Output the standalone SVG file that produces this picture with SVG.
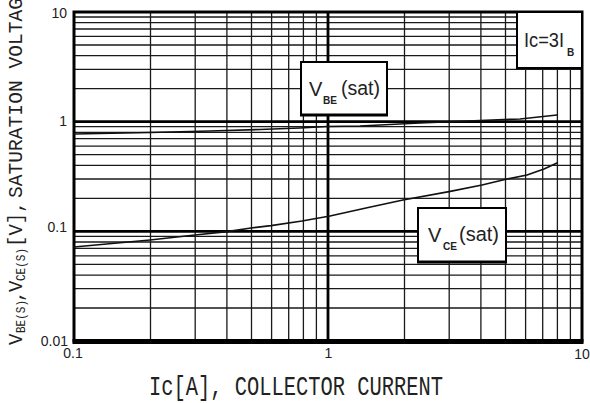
<svg xmlns="http://www.w3.org/2000/svg" width="590" height="403" viewBox="0 0 590 403">
<style>
.minor{stroke:#1a1a1a;stroke-width:1.3;fill:none}
.major{stroke:#000;stroke-width:2.8;fill:none}
.frame{stroke:#000;stroke-width:3;fill:none}
.curve{stroke:#111;stroke-width:1.7;fill:none;stroke-linejoin:round;stroke-linecap:round}
.box{fill:#fff;stroke:#000;stroke-width:2}
.tick{font-family:"Liberation Sans",Arial,sans-serif;font-size:14px;fill:#222}
.lbl{font-family:"Liberation Sans",Arial,sans-serif;font-size:20px;fill:#222}
.sub{font-family:"Liberation Sans",Arial,sans-serif;font-size:10px;font-weight:bold;fill:#222}
.axis{font-family:"Liberation Mono","DejaVu Sans Mono",monospace;fill:#222}
</style>
<rect width="590" height="403" fill="#fff"/>
<g id="grid">
<path class="minor" d="M150.5,12V341M195.2,12V341M226.9,12V341M251.5,12V341M271.6,12V341M288.7,12V341M303.4,12V341M316.4,12V341M404.5,12V341M449.2,12V341M480.9,12V341M505.5,12V341M525.6,12V341M542.7,12V341M557.4,12V341M570.4,12V341"/>
<path class="minor" d="M74,17H582M74,22.6H582M74,29H582M74,36.4H582M74,45H582M74,55.7H582M74,69.4H582M74,88.7H582M74,126.7H582M74,132.3H582M74,138.7H582M74,146.1H582M74,154.7H582M74,165.4H582M74,179H582M74,198.3H582M74,236.4H582M74,242H582M74,248.4H582M74,255.8H582M74,264.3H582M74,275.1H582M74,288.7H582M74,308H582"/>
<path class="major" d="M328,12V341M74,121.7H582M74,231.3H582"/>
<rect class="frame" x="74" y="12" width="508" height="329"/>
<line x1="72.5" y1="341.5" x2="583.5" y2="341.5" stroke="#000" stroke-width="5"/>
</g>
<g id="ticks">
<text class="tick" x="67" y="18" text-anchor="end">10</text>
<text class="tick" x="67" y="126" text-anchor="end">1</text>
<text class="tick" x="67" y="232" text-anchor="end">0.1</text>
<text class="tick" x="68" y="346" text-anchor="end">0.01</text>
<text class="tick" x="73" y="358" text-anchor="middle">0.1</text>
<text class="tick" x="328.5" y="358" text-anchor="middle">1</text>
<text class="tick" x="582" y="359" text-anchor="middle">10</text>
</g>
<g id="connectors">
<polyline id="vbe-curve" class="curve" points="74,134 150,132.5 210,131 260,129.5 300,128 327,126.5 360,126 420,123 480,120.5 520,119 557,115"/>
<polyline id="vce-curve" class="curve" points="74,247 150,240 195,235 227,231.7 251,228 271,225.7 302,221 330,216 366,208 403,200 449,191.7 482,185 507,179 527,175 544,169 557,163"/>
</g>
<g id="node-ic">
<rect class="box" x="517" y="12" width="65" height="56"/>
<text class="lbl" x="524" y="47" textLength="40" lengthAdjust="spacingAndGlyphs">Ic=3I</text>
<text class="sub" x="567" y="56">B</text>
</g>
<g id="node-vbe">
<rect class="box" x="301" y="62" width="86" height="53"/>
<line x1="300" y1="115" x2="388" y2="115" stroke="#000" stroke-width="3"/>
<text class="lbl" x="309" y="96">V</text>
<text class="sub" x="323" y="104" textLength="14" lengthAdjust="spacingAndGlyphs">BE</text>
<text class="lbl" x="341" y="95" textLength="39" lengthAdjust="spacingAndGlyphs">(sat)</text>
</g>
<g id="node-vce">
<rect class="box" x="418" y="208" width="88" height="54"/>
<line x1="417" y1="262" x2="507" y2="262" stroke="#000" stroke-width="3"/>
<text class="lbl" x="428" y="242">V</text>
<text class="sub" x="443" y="250" textLength="14" lengthAdjust="spacingAndGlyphs">CE</text>
<text class="lbl" x="459" y="241" textLength="40" lengthAdjust="spacingAndGlyphs">(sat)</text>
</g>
<g id="axis-labels">
<text class="axis" transform="translate(149,395) scale(1,1.4)" font-size="20" textLength="294" lengthAdjust="spacingAndGlyphs">Ic[A], COLLECTOR CURRENT</text>
<g transform="translate(22,0) rotate(-90)">
<text class="axis" font-size="19" transform="scale(1,1.1)">
<tspan x="-345" y="0">V</tspan>
<tspan x="-333" y="3" font-size="11">BE(S)</tspan>
<tspan x="-302" y="0">,</tspan>
<tspan x="-292" y="0">V</tspan>
<tspan x="-281" y="3" font-size="11">CE(S)</tspan>
<tspan x="-247" y="0">[V],</tspan>
<tspan x="-198" y="0" textLength="200" lengthAdjust="spacingAndGlyphs">SATURATION VOLTAG</tspan>
</text>
</g>
</g>
</svg>
